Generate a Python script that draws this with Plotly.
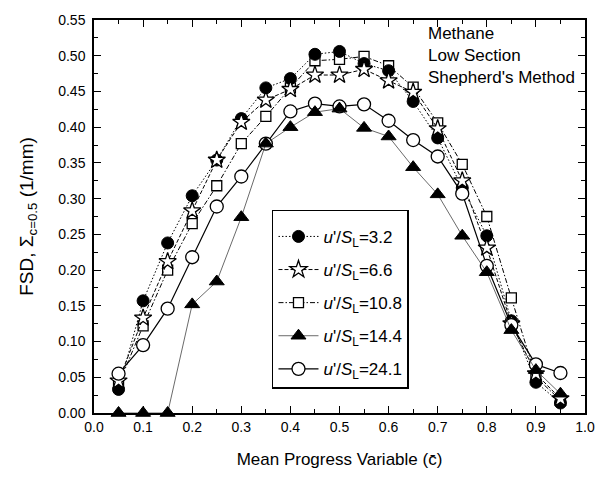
import plotly.graph_objects as go

c_bar = [0.05, 0.10, 0.15, 0.20, 0.25, 0.30, 0.35, 0.40, 0.45, 0.50,
         0.55, 0.60, 0.65, 0.70, 0.75, 0.80, 0.85, 0.90, 0.95]

fsd_32 = [0.033, 0.157, 0.238, 0.304, 0.354, 0.412, 0.455, 0.468, 0.502, 0.506,
          0.489, 0.479, 0.436, 0.385, 0.315, 0.248, 0.129, 0.043, 0.014]
fsd_66 = [0.045, 0.133, 0.212, 0.283, 0.354, 0.407, 0.438, 0.453, 0.473, 0.473,
          0.481, 0.465, 0.449, 0.398, 0.325, 0.231, 0.125, 0.055, 0.020]
fsd_108 = [0.040, 0.122, 0.200, 0.265, 0.318, 0.377, 0.415, 0.455, 0.493, 0.495,
           0.499, 0.486, 0.456, 0.406, 0.348, 0.275, 0.161, 0.050, 0.018]
fsd_144 = [0.0, 0.0, 0.0, 0.152, 0.184, 0.274, 0.377, 0.400, 0.421, 0.426,
           0.399, 0.387, 0.344, 0.306, 0.248, 0.197, 0.116, 0.060, 0.027]
fsd_241 = [0.055, 0.095, 0.146, 0.218, 0.289, 0.331, 0.377, 0.422, 0.433, 0.429,
           0.432, 0.409, 0.382, 0.359, 0.307, 0.206, 0.123, 0.068, 0.056]

labels = ["3.2", "6.6", "10.8", "14.4", "24.1"]
x_ticks = [0.0, 0.1, 0.2, 0.3, 0.4, 0.5, 0.6, 0.7, 0.8, 0.9, 1.0]
y_ticks = [0.00, 0.05, 0.10, 0.15, 0.20, 0.25, 0.30, 0.35, 0.40, 0.45, 0.50, 0.55]

FONT = "Liberation Sans, Arial"

def name(v):
    return "<i>u</i>'/<i>S</i><sub>L</sub>=" + v

fig = go.Figure()

# draw order: square, filled circle, star, open circle, triangle
specs = [
    (fsd_108, labels[2], 3, dict(symbol="square", size=10, color="white", line=dict(color="black", width=1.3)),
     dict(color="black", width=1, dash="5px,2px,1.5px,2px")),
    (fsd_32, labels[0], 1, dict(symbol="circle", size=12, color="black", line=dict(color="black", width=1)),
     dict(color="black", width=1, dash="1.5px,2px")),
    (fsd_66, labels[1], 2, dict(symbol="star", size=13, color="white", line=dict(color="black", width=1.3)),
     dict(color="black", width=1, dash="4px,2px")),
    (fsd_241, labels[4], 5, dict(symbol="circle", size=13, color="white", line=dict(color="black", width=1.3)),
     dict(color="black", width=1.2)),
    (fsd_144, labels[3], 4, dict(symbol="triangle-up", size=13, color="black", line=dict(color="black", width=1)),
     dict(color="#444444", width=0.8)),
]

for ys, lab, rank, mk, ln in specs:
    fig.add_trace(go.Scatter(
        x=c_bar, y=ys, mode="lines+markers", name=name(lab),
        marker=mk, line=ln, legendrank=rank, legendgroup=lab, cliponaxis=False,
    ))

axis_common = dict(
    showline=True, linecolor="black", linewidth=1.5, mirror="ticks",
    ticks="inside", ticklen=7, tickwidth=1.2, tickcolor="black",
    showgrid=False, zeroline=False,
    tickfont=dict(family=FONT, size=14, color="black"),
)

fig.update_layout(
    width=611, height=478,
    margin=dict(l=94, r=26, t=15, b=65),
    paper_bgcolor="white", plot_bgcolor="white",
    font=dict(family=FONT, color="black"),
    xaxis=dict(range=[0, 1], tickvals=x_ticks, ticktext=[f"{v:.1f}" for v in x_ticks],
               minor=dict(dtick=0.05, ticks="inside", ticklen=4, tickcolor="black", tickwidth=1.2),
               title=dict(text="Mean Progress Variable (c\u0304)", font=dict(size=17), standoff=20),
               **axis_common),
    yaxis=dict(range=[0, 0.55], tickvals=y_ticks, ticktext=[f"{v:.2f}" for v in y_ticks],
               minor=dict(dtick=0.025, ticks="inside", ticklen=4, tickcolor="black", tickwidth=1.2),
               title=dict(text="FSD, \u03a3<sub>c=0.5</sub> (1/mm)", font=dict(size=19), standoff=20),
               ticklabelstandoff=4,
               **axis_common),
    legend=dict(x=0.3625, y=0.5176, xanchor="left", yanchor="top",
                bordercolor="black", borderwidth=1.5, bgcolor="white",
                font=dict(size=17, family=FONT),
                title=dict(text=" ", font=dict(size=6)),
                traceorder="grouped", tracegroupgap=8, itemwidth=40),
    showlegend=True,
)

fig.add_annotation(
    x=0.676, y=0.995, xref="paper", yref="paper", xanchor="left", yanchor="top",
    text="Methane<br>Low Section<br>Shepherd's Method", showarrow=False, align="left",
    font=dict(size=17, family=FONT, color="black"),
)

fig.write_html("out.html")
